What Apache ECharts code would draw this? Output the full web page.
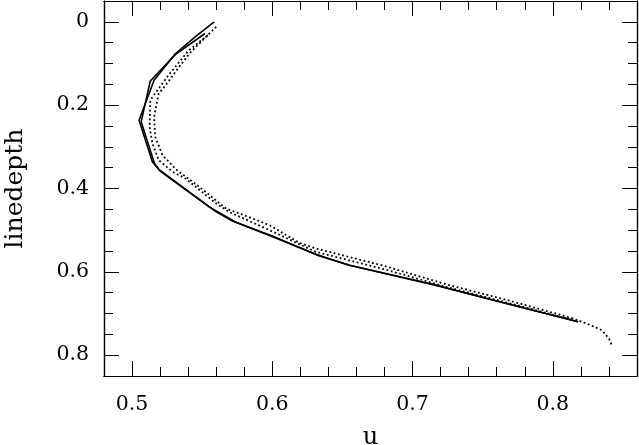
<!DOCTYPE html>
<html>
<head>
<meta charset="utf-8">
<script src="https://cdn.jsdelivr.net/npm/echarts@6/dist/echarts.min.js"></script>
<style>html,body{margin:0;padding:0;background:#fff}#c{width:639px;height:445px}</style>
</head>
<body>
<div id="c"></div>
<script>
// Solid line A
const solidA_u = [0.5586, 0.545, 0.531, 0.5157, 0.505, 0.5145, 0.519, 0.560, 0.5716, 0.600, 0.6336, 0.655, 0.7145, 0.762, 0.818];
const solidA_d = [0.000, 0.036, 0.076, 0.140, 0.236, 0.336, 0.354, 0.456, 0.478, 0.514, 0.562, 0.584, 0.630, 0.672, 0.720];
// Solid line B
const solidB_u = [0.552, 0.531, 0.513, 0.5065, 0.516, 0.520, 0.555, 0.574, 0.602, 0.631, 0.655, 0.716, 0.762, 0.818];
const solidB_d = [0.028, 0.078, 0.142, 0.240, 0.340, 0.358, 0.444, 0.481, 0.518, 0.558, 0.584, 0.632, 0.672, 0.720];
// Dotted line C (reaches deepest)
const dotC_u = [0.560, 0.550, 0.542, 0.5336, 0.524, 0.519, 0.5157, 0.5165, 0.5217, 0.532, 0.548, 0.567, 0.586, 0.598, 0.619, 0.631, 0.680, 0.724, 0.770, 0.8145, 0.824, 0.835, 0.840, 0.842];
const dotC_d = [0.012, 0.045, 0.072, 0.108, 0.152, 0.172, 0.228, 0.276, 0.320, 0.356, 0.396, 0.448, 0.472, 0.488, 0.530, 0.544, 0.586, 0.630, 0.670, 0.712, 0.724, 0.740, 0.760, 0.776];
// Dotted line D
const dotD_u = [0.554, 0.540, 0.526, 0.519, 0.513, 0.5125, 0.5145, 0.519, 0.529, 0.538, 0.560, 0.569, 0.598, 0.631, 0.680, 0.724, 0.770, 0.8145];
const dotD_d = [0.032, 0.070, 0.128, 0.160, 0.188, 0.252, 0.292, 0.332, 0.360, 0.376, 0.436, 0.456, 0.500, 0.552, 0.594, 0.636, 0.676, 0.716];

// Axis ticks
const xMajor = [0.5, 0.6, 0.7, 0.8];
const xMinor = [0.48, 0.5, 0.52, 0.54, 0.56, 0.58, 0.6, 0.62, 0.64, 0.66, 0.68, 0.7, 0.72, 0.74, 0.76, 0.78, 0.8, 0.82, 0.84, 0.86];
const yMajor = [0, 0.2, 0.4, 0.6, 0.8];
const yMinor = [-0.05, 0, 0.05, 0.1, 0.15, 0.2, 0.25, 0.3, 0.35, 0.4, 0.45, 0.5, 0.55, 0.6, 0.65, 0.7, 0.75, 0.8, 0.85];

const FONT = 'DejaVu Serif';
const pair = (u, d) => u.map((v, i) => [v, d[i]]);

function xAx(pos, ticks, len, labels, extra) {
  return Object.assign({
    type: 'value', min: 0.48, max: 0.86, position: pos, gridIndex: 0,
    axisLine: { show: true, onZero: false, lineStyle: { color: '#000', width: 1.2 } },
    axisTick: { show: true, inside: true, length: len, customValues: ticks, lineStyle: { color: '#000', width: 1 } },
    axisLabel: labels ? { show: true, customValues: ticks, color: '#000', fontFamily: FONT, fontSize: 20.5, margin: 18 } : { show: false },
    splitLine: { show: false }
  }, extra || {});
}
function yAx(pos, ticks, len, labels, extra) {
  return Object.assign({
    type: 'value', min: -0.05, max: 0.85, inverse: true, position: pos, gridIndex: 0,
    axisLine: { show: true, onZero: false, lineStyle: { color: '#000', width: 1.2 } },
    axisTick: { show: true, inside: true, length: len, customValues: ticks, lineStyle: { color: '#000', width: 1 } },
    axisLabel: labels ? { show: true, customValues: ticks, color: '#000', fontFamily: FONT, fontSize: 20.5, margin: 15 } : { show: false },
    splitLine: { show: false }
  }, extra || {});
}

const chart = echarts.init(document.getElementById('c'), null, { renderer: 'canvas' });
const solidStyle = { color: '#000', width: 1.6 };
const dotStyle = { color: '#000', width: 1.8, type: [1.8, 2.6] };
chart.setOption({
  animation: false,
  backgroundColor: '#fff',
  grid: { left: 104, right: 2, top: 1, bottom: 69, containLabel: false, outerBoundsMode: 'none' },
  xAxis: [
    xAx('bottom', xMajor, 15, true, { name: 'u', nameLocation: 'middle', nameGap: 50, nameTextStyle: { color: '#000', fontFamily: FONT, fontSize: 24 } }),
    xAx('bottom', xMinor, 9, false),
    xAx('top', xMajor, 15, false),
    xAx('top', xMinor, 9, false)
  ],
  yAxis: [
    yAx('left', yMajor, 15, true, { name: 'linedepth', nameLocation: 'middle', nameGap: 76, nameRotate: 90, nameTextStyle: { color: '#000', fontFamily: FONT, fontSize: 25 } }),
    yAx('left', yMinor, 9, false),
    yAx('right', yMajor, 15, false),
    yAx('right', yMinor, 9, false)
  ],
  series: [
    { type: 'line', data: pair(solidA_u, solidA_d), showSymbol: false, lineStyle: solidStyle, xAxisIndex: 0, yAxisIndex: 0 },
    { type: 'line', data: pair(solidB_u, solidB_d), showSymbol: false, lineStyle: solidStyle, xAxisIndex: 0, yAxisIndex: 0 },
    { type: 'line', data: pair(dotC_u, dotC_d), showSymbol: false, lineStyle: dotStyle, xAxisIndex: 0, yAxisIndex: 0 },
    { type: 'line', data: pair(dotD_u, dotD_d), showSymbol: false, lineStyle: dotStyle, xAxisIndex: 0, yAxisIndex: 0 }
  ]
});
</script>
</body>
</html>
